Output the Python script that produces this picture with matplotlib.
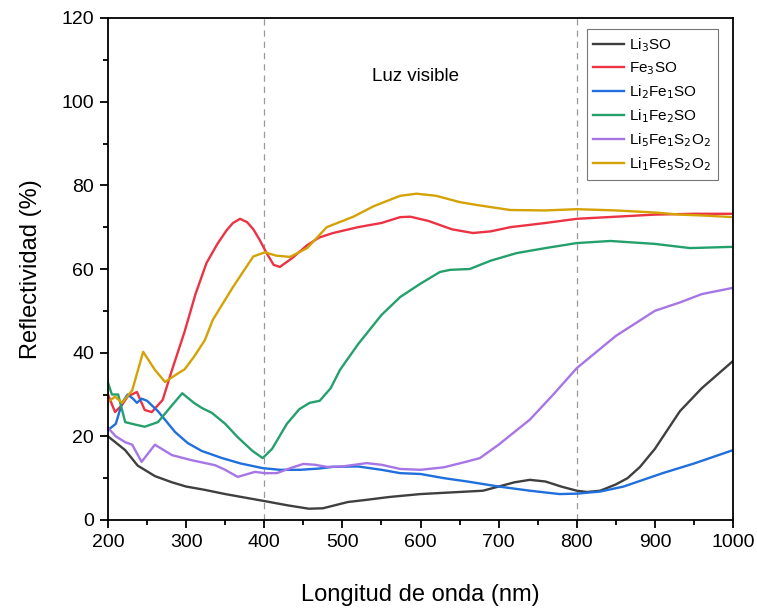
import matplotlib
matplotlib.use("Agg")
import matplotlib.pyplot as plt
from matplotlib.ticker import MultipleLocator

plt.rcParams['font.family'] = ['Liberation Sans', 'DejaVu Sans']

# ---- data ----
li3so_x = [200, 210, 222, 238, 260, 282, 300, 324, 350, 380, 401, 430, 457, 475, 490, 507, 530, 560, 600, 640, 680, 700, 720, 740, 760, 780, 800, 813, 830, 850, 865, 881, 900, 932, 960, 1000]
li3so_y = [20, 18.5, 16.7, 13, 10.5, 9, 8, 7.2, 6.2, 5.2, 4.5, 3.5, 2.7, 2.8, 3.5, 4.3, 4.8, 5.5, 6.2, 6.6, 7, 8, 9, 9.6, 9.2, 8, 7, 6.7, 7, 8.5, 10, 12.7, 17, 26, 31.5, 38]

fe3so_x = [200, 209, 218, 225, 237, 247, 256, 270, 282, 298, 312, 326, 340, 352, 360, 369, 378, 386, 394, 403, 412, 420, 435, 455, 470, 488, 520, 550, 574, 587, 610, 640, 667, 690, 715, 760, 800, 850, 900, 950, 1000]
fe3so_y = [30, 25.8, 27.5, 29.5, 30.6, 26.3, 25.8, 28.7, 35.9, 45, 54, 61.4, 66, 69.3, 71, 72, 71.2, 69.5, 67, 63.8, 61, 60.5, 62.5, 65.7, 67.5, 68.6, 70, 71, 72.4, 72.5, 71.5, 69.5, 68.6, 69, 70, 71, 72, 72.5, 73, 73.2, 73.2]

li2fe1so_x = [200, 210, 218, 225, 232, 237, 243, 250, 264, 286, 302, 320, 346, 370, 398, 420, 446, 470, 488, 520, 550, 574, 600, 630, 660, 700, 740, 778, 800, 830, 860, 910, 950, 1000]
li2fe1so_y = [21.5, 23, 28, 30, 29, 28, 29, 28.5, 26, 21, 18.4, 16.5, 14.8, 13.5, 12.4, 12, 12, 12.3, 12.7, 12.8, 12, 11.2, 11, 10, 9.2, 8, 7, 6.2, 6.3, 6.8, 8, 11.2, 13.5, 16.7]

li1fe2so_x = [200, 205, 213, 222, 235, 247, 264, 280, 295, 310, 320, 333, 350, 366, 385, 398, 410, 429, 445, 458, 471, 485, 497, 520, 550, 574, 600, 625, 638, 663, 690, 723, 760, 800, 843, 900, 945, 1000]
li1fe2so_y = [32.8, 30, 30, 23.4, 22.8, 22.3, 23.4, 27, 30.3, 28, 26.8, 25.6, 23, 19.8, 16.5, 14.8, 17, 23, 26.5, 28, 28.5, 31.5, 35.9, 42, 49, 53.3, 56.5, 59.3, 59.8, 60, 62, 63.8, 65, 66.2, 66.7, 66, 65, 65.3]

li5fe1s2o2_x = [200, 210, 222, 231, 243, 260, 282, 307, 337, 350, 366, 388, 401, 416, 435, 450, 465, 480, 500, 531, 550, 574, 600, 630, 660, 676, 700, 740, 770, 800, 850, 900, 932, 960, 1000]
li5fe1s2o2_y = [22, 20, 18.6, 18, 13.9, 18, 15.5, 14.3, 13.1, 12, 10.3, 11.5, 11.2, 11.2, 12.5, 13.4, 13.2, 12.7, 12.8, 13.6, 13.2, 12.2, 12, 12.6, 14, 14.8, 18, 24, 30, 36.3, 44, 50, 52, 54, 55.5]

li1fe5s2o2_x = [200, 209, 218, 231, 245, 260, 273, 290, 298, 310, 324, 334, 360, 386, 401, 415, 433, 455, 470, 480, 514, 540, 574, 595, 620, 650, 672, 715, 760, 800, 850, 900, 932, 960, 1000]
li1fe5s2o2_y = [28.2, 29.5, 28, 31, 40.2, 35.9, 33, 35.1, 36, 39, 43, 47.8, 55.7, 63, 64, 63.2, 62.9, 65, 68, 70, 72.5, 75, 77.5, 78, 77.5, 76, 75.3, 74.1, 74, 74.3, 74, 73.5, 73, 72.8, 72.4]

labels = [r'Li$_3$SO', r'Fe$_3$SO', r'Li$_2$Fe$_1$SO', r'Li$_1$Fe$_2$SO',
          r'Li$_5$Fe$_1$S$_2$O$_2$', r'Li$_1$Fe$_5$S$_2$O$_2$']
colors = ['#3f3f3f', '#ec3344', '#1f6fdc', '#24a06c', '#a675e6', '#d4a205']
series = [(li3so_x, li3so_y), (fe3so_x, fe3so_y), (li2fe1so_x, li2fe1so_y),
          (li1fe2so_x, li1fe2so_y), (li5fe1s2o2_x, li5fe1s2o2_y), (li1fe5s2o2_x, li1fe5s2o2_y)]
vlines = [400, 800]

fig = plt.figure(figsize=(7.57, 6.11), dpi=100)
ax = fig.add_axes([108/757, 91/611, 625/757, 502/611])

for (x, y), lab, c in zip(series, labels, colors):
    ax.plot(x, y, color=c, lw=1.7, label=lab, solid_joinstyle='round')

for v in vlines:
    ax.axvline(v, color='#999999', lw=0.9, ls=(0, (5, 4)), zorder=0)

ax.set_xlim(200, 1000)
ax.set_ylim(0, 120)
ax.xaxis.set_major_locator(MultipleLocator(100))
ax.xaxis.set_minor_locator(MultipleLocator(50))
ax.yaxis.set_major_locator(MultipleLocator(20))
ax.yaxis.set_minor_locator(MultipleLocator(10))
ax.tick_params(axis='both', which='major', direction='out', length=6, width=1.3, labelsize=14, pad=4)
ax.tick_params(axis='both', which='minor', direction='out', length=3.5, width=1.3)
for s in ax.spines.values():
    s.set_linewidth(1.3)

ax.set_xlabel('Longitud de onda (nm)', fontsize=17, labelpad=24)
ax.set_ylabel('Reflectividad (%)', fontsize=17, labelpad=14)

ax.text(593, 106, 'Luz visible', fontsize=13.5, ha='center', va='center')

leg = ax.legend(loc='upper right', bbox_to_anchor=(0.976, 0.978), borderaxespad=0,
                fontsize=11, frameon=True, fancybox=False, handlelength=2.0,
                handletextpad=0.35, labelspacing=0.42, borderpad=0.45)
leg.get_frame().set_edgecolor('#555555')
leg.get_frame().set_linewidth(0.8)

fig.savefig('out.png', dpi=100)
